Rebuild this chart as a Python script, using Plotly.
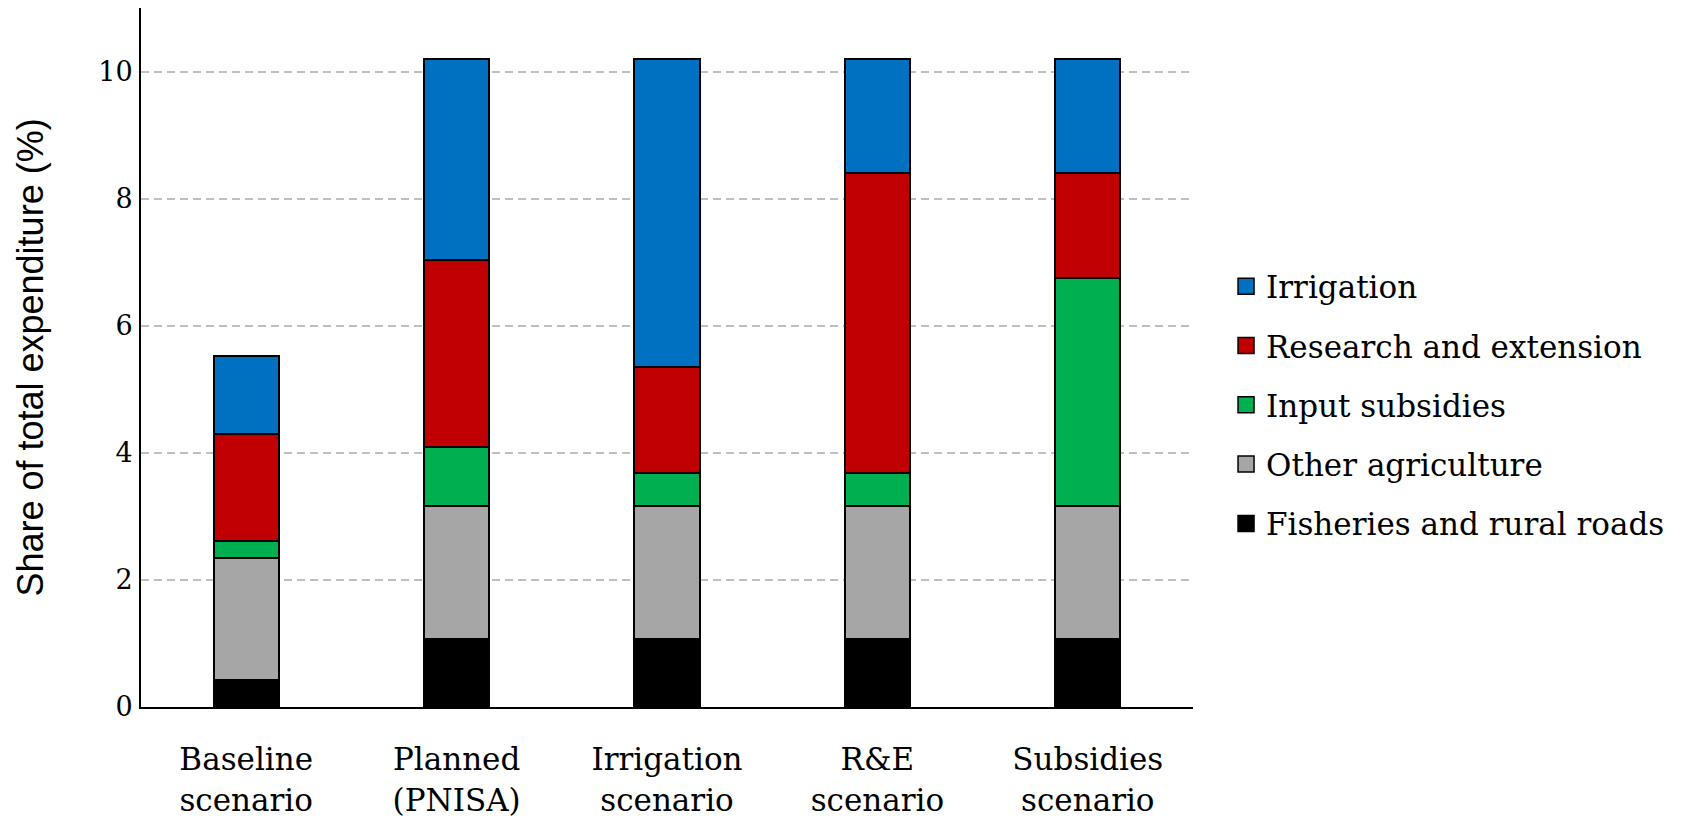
import plotly.graph_objects as go

categories = ["Baseline<br>scenario", "Planned<br>(PNISA)", "Irrigation<br>scenario",
              "R&E<br>scenario", "Subsidies<br>scenario"]

fisheries_roads = [0.42, 1.07, 1.07, 1.07, 1.07]
other_agriculture = [1.92, 2.09, 2.09, 2.09, 2.09]
input_subsidies = [0.28, 0.93, 0.53, 0.53, 3.59]
research_extension = [1.68, 2.95, 1.66, 4.72, 1.66]
irrigation = [1.23, 3.15, 4.84, 1.78, 1.78]

y_ticks = [0, 2, 4, 6, 8, 10]

# (name, values, colour, legend rank)
series = [
    ("Fisheries and rural roads", fisheries_roads, "#000000", 5),
    ("Other agriculture", other_agriculture, "#a6a6a6", 4),
    ("Input subsidies", input_subsidies, "#00b050", 3),
    ("Research and extension", research_extension, "#c00000", 2),
    ("Irrigation", irrigation, "#0070c0", 1),
]

SERIF = "DejaVu Serif"

fig = go.Figure()
for name, vals, color, rank in series:
    fig.add_trace(go.Bar(
        x=categories, y=vals, name=name, legendgroup=name,
        showlegend=False,
        marker=dict(color=color, line=dict(color="#000000", width=2)),
    ))
# legend entries with larger square swatches
for name, vals, color, rank in series:
    fig.add_trace(go.Scatter(
        x=[None], y=[None], mode="markers", name=name, legendgroup=name,
        legendrank=rank, showlegend=True, hoverinfo="skip",
        marker=dict(symbol="square", size=16, color=color,
                    line=dict(color="#000000", width=1.5)),
    ))

fig.update_layout(
    barmode="stack",
    bargap=0.69,
    width=1685, height=819,
    paper_bgcolor="white", plot_bgcolor="white",
    margin=dict(l=141, r=492, t=8, b=112, autoexpand=False),
    font=dict(family=SERIF, size=31, color="#000000"),
    showlegend=True,
    legend=dict(
        traceorder="grouped",
        tracegroupgap=16,
        itemsizing="trace",
        x=1.0314, xanchor="left", y=0.432, yanchor="middle",
        font=dict(family=SERIF, size=31, color="#000000"),
        bgcolor="rgba(0,0,0,0)",
    ),
)

fig.update_yaxes(
    automargin=False,
    range=[0, 11],
    tickvals=y_ticks,
    showgrid=True, gridcolor="#c0c0c0", gridwidth=1.5, griddash="8px,5px",
    zeroline=False,
    showline=True, linecolor="#000000", linewidth=2,
    ticks="", ticklabelstandoff=1,
    tickfont=dict(family=SERIF, size=27),
    title=dict(text="Share of total expenditure (%)",
               font=dict(family="Liberation Sans", size=36),
               standoff=44),
)
fig.update_xaxes(
    automargin=False,
    showline=True, linecolor="#000000", linewidth=2,
    ticks="", showgrid=False,
    tickfont=dict(family=SERIF, size=31),
    ticklabelstandoff=24,
)

fig.write_html("out.html", config={"displayModeBar": False},
               post_script="document.body.style.margin='0';")
